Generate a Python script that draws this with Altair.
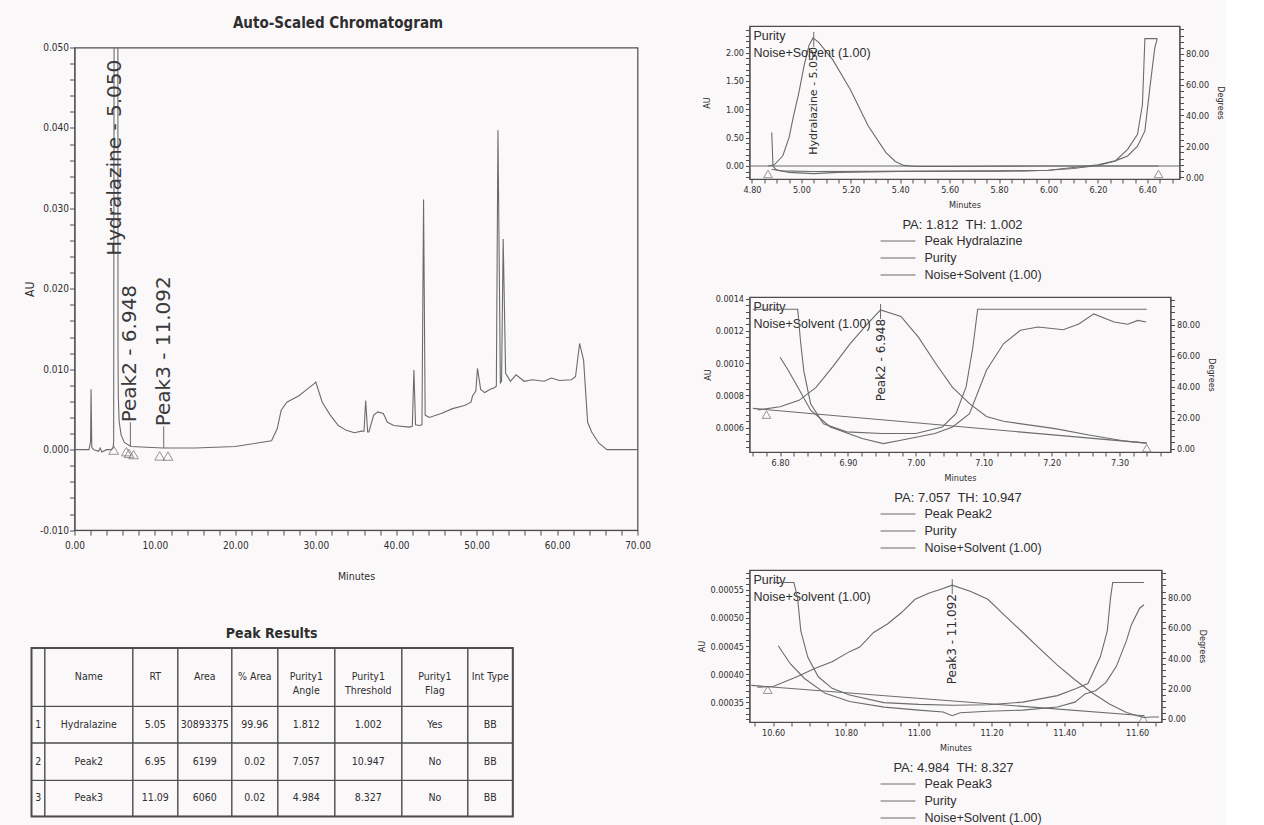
import altair as alt
import pandas as pd
import numpy as np

# ------------------------------------------------------------------ data
# Auto-scaled chromatogram (minutes, AU)
main_time = [0.0, 1.8, 2.0, 2.06, 2.15, 2.4, 3.0, 3.2, 3.4, 4.0, 4.6, 4.80, 4.87, 4.92, 4.97, 5.05,
             5.27, 5.34, 5.38, 5.41, 5.45, 5.55, 5.8, 6.2, 7.0, 9.0, 11.0, 15.0, 20.0, 24.5, 25.2,
             25.7, 26.4, 27.9, 28.9, 29.8, 30.0, 30.8, 31.8, 32.8, 33.8, 34.8, 35.7, 36.0, 36.2,
             36.45, 36.6, 37.2, 37.7, 38.4, 38.9, 39.7, 41.6, 42.0, 42.2, 42.4, 42.9, 43.2, 43.4,
             43.6, 44.1, 45.6, 47.0, 48.5, 49.3, 49.5, 49.9, 50.1, 50.5, 51.0, 51.7, 52.2, 52.45,
             52.65, 52.95, 53.1, 53.3, 53.6, 54.2, 54.9, 55.9, 56.9, 58.4, 59.3, 60.3, 61.8, 62.3,
             62.8, 63.3, 63.8, 64.3, 65.2, 66.2, 70.0]
main_au = [0.0, 0.0, 0.0010, 0.0075, 0.0003, 0.0, -0.0002, 0.0002, -0.0003, 0.0, 0.0, 0.0002, 0.001,
           0.05, 0.9, 2.26, 0.71, 0.235, 0.08, 0.012, 0.0065, 0.0035, 0.0018, 0.0009, 0.0004, 0.0003,
           0.0002, 0.0002, 0.0004, 0.0011, 0.0026, 0.0049, 0.0059, 0.0067, 0.0075, 0.0082, 0.0084,
           0.0059, 0.0043, 0.0030, 0.0024, 0.0021, 0.0023, 0.0023, 0.0061, 0.0022, 0.0022, 0.0043,
           0.0047, 0.0045, 0.0034, 0.0030, 0.0028, 0.0029, 0.0099, 0.0031, 0.0030, 0.0031, 0.0311,
           0.0043, 0.0040, 0.0045, 0.0051, 0.0055, 0.0059, 0.0067, 0.0073, 0.0101, 0.0075, 0.0071,
           0.0075, 0.0077, 0.0079, 0.0397, 0.0083, 0.0085, 0.0262, 0.0095, 0.0085, 0.0093, 0.0085,
           0.0087, 0.0085, 0.0089, 0.0086, 0.0087, 0.0091, 0.0132, 0.0111, 0.0034, 0.0022, 0.0008,
           0.0, 0.0]

peak_names = ["Hydralazine", "Peak2", "Peak3"]
peak_rt = [5.050, 6.948, 11.092]
peak_starts = [4.865, 6.78, 10.585]
peak_ends = [6.445, 7.34, 11.617]
main_label_anchor = [0.0241, 0.0034, 0.0029]   # where each vertical peak label begins (AU)

# Peak Results table
tbl_rt = [5.05, 6.95, 11.09]
tbl_area = [30893375, 6199, 6060]
tbl_pct_area = [99.96, 0.02, 0.02]
tbl_purity_angle = [1.812, 7.057, 4.984]
tbl_purity_threshold = [1.002, 10.947, 8.327]
tbl_purity_flag = ["Yes", "No", "No"]
tbl_int_type = ["BB", "BB", "BB"]
tbl_headers = ["", "Name", "RT", "Area", "% Area", "Purity1\nAngle", "Purity1\nThreshold",
               "Purity1\nFlag", "Int Type"]

# Purity plot 1 : Hydralazine
p1_peak_t = [4.79, 4.865, 4.89, 4.925, 4.95, 4.968, 4.99, 5.011, 5.03, 5.047, 5.07, 5.126, 5.198,
             5.27, 5.342, 5.38, 5.414, 5.46, 5.60, 6.00, 6.53]
p1_peak_au = [0.0, 0.0, 0.02, 0.18, 0.50, 0.88, 1.30, 1.77, 2.12, 2.26, 2.18, 1.88, 1.35, 0.71,
              0.235, 0.08, 0.01, -0.01, -0.01, 0.0, 0.0]
p1_purity_t = [4.88, 4.885, 4.90, 4.95, 5.05, 5.15, 5.40, 5.80, 6.00, 6.10, 6.20, 6.27, 6.32, 6.36,
               6.38, 6.39, 6.44]
p1_purity_deg = [29, 7, 4.5, 3.0, 2.2, 3.0, 3.6, 3.8, 4.4, 5.5, 7.5, 10.4, 18, 27.8, 47, 90, 90]
p1_noise_t = [4.88, 4.92, 5.05, 5.50, 5.90, 6.00, 6.20, 6.27, 6.32, 6.36, 6.39, 6.41, 6.43, 6.44]
p1_noise_deg = [5.0, 4.0, 3.6, 3.8, 4.0, 4.4, 8.0, 10.5, 13.7, 20, 30, 58, 84, 90]
p1_base_t = [4.865, 6.445]
p1_base_au = [0.0, 0.0]

# Purity plot 2 : Peak2
p2_peak_t = [6.767, 6.80, 6.828, 6.853, 6.878, 6.903, 6.928, 6.948, 6.978, 7.004, 7.029, 7.054,
             7.079, 7.104, 7.129, 7.179, 7.205, 7.255, 7.305, 7.34]
p2_peak_au = [0.00071, 0.00073, 0.00077, 0.00085, 0.00098, 0.00112, 0.00124, 0.00133, 0.00129,
              0.00116, 0.00100, 0.00085, 0.00075, 0.00067, 0.00064, 0.00061, 0.000595, 0.000555,
              0.00052, 0.000505]
p2_purity_t = [6.80, 6.812, 6.826, 6.845, 6.874, 6.921, 6.952, 6.978, 7.028, 7.054, 7.079, 7.104,
               7.129, 7.154, 7.18, 7.217, 7.24, 7.262, 7.292, 7.312, 7.327, 7.339]
p2_purity_deg = [59, 50.6, 39.8, 24.8, 14, 6.5, 3.2, 5.4, 9.7, 14, 22.6, 50.6, 67.7, 76.4, 78.5,
                 76.8, 80.5, 87, 81.7, 80.3, 82.8, 81.7]
p2_noise_t = [6.76, 6.826, 6.830, 6.835, 6.845, 6.864, 6.898, 6.95, 7.00, 7.039, 7.059, 7.074,
              7.084, 7.091, 7.34]
p2_noise_deg = [90, 90, 70, 50, 29, 16, 10.8, 9.7, 9.7, 14, 22.6, 39.8, 65.6, 90, 90]
p2_base_t = [6.76, 7.34]
p2_base_au = [0.00072, 0.000505]

# Purity plot 3 : Peak3
p3_peak_t = [10.557, 10.60, 10.667, 10.714, 10.762, 10.81, 10.838, 10.876, 10.914, 10.952, 10.99,
             11.029, 11.057, 11.092, 11.143, 11.19, 11.238, 11.286, 11.333, 11.381, 11.429, 11.476,
             11.524, 11.571, 11.60, 11.619, 11.64, 11.66]
p3_peak_au = [0.000377, 0.000378, 0.000396, 0.00041, 0.000422, 0.00044, 0.000448, 0.000474,
              0.000489, 0.000509, 0.000533, 0.000544, 0.00055, 0.000558, 0.000547, 0.000533,
              0.000503, 0.000474, 0.000445, 0.000416, 0.00039, 0.000367, 0.000347, 0.000332,
              0.000326, 0.000323, 0.000324, 0.000324]
p3_purity_t = [10.614, 10.647, 10.686, 10.743, 10.81, 10.905, 11.0, 11.067, 11.092, 11.114, 11.19,
               11.286, 11.381, 11.429, 11.457, 11.486, 11.514, 11.543, 11.571, 11.584, 11.607, 11.619]
p3_purity_deg = [48.3, 36.4, 26.7, 16.9, 11.5, 7.8, 5.8, 4.6, 2.1, 4.1, 5.1, 5.8, 7.9, 11.1, 16.5,
                 18.6, 24, 34.7, 51.8, 62, 73, 75.3]
p3_noise_t = [10.60, 10.657, 10.667, 10.676, 10.695, 10.724, 10.762, 10.81, 10.904, 11.0, 11.095,
              11.19, 11.286, 11.381, 11.429, 11.465, 11.499, 11.518, 11.527, 11.533, 11.619]
p3_noise_deg = [90, 90, 80, 58, 40.8, 27.8, 20.2, 15.8, 10.8, 9.6, 9.0, 9.4, 11.1, 15.4, 19.7,
                23.4, 41, 58, 80, 90, 90]
p3_base_t = [10.54, 11.62]
p3_base_au = [0.00038, 0.000326]

pa_values = [1.812, 7.057, 4.984]
th_values = [1.002, 10.947, 8.327]

# ------------------------------------------------------------------ style
NARROW = "Liberation Sans Narrow, Arial Narrow, DejaVu Sans Condensed, sans-serif"
SANS = "Liberation Sans, Arial, sans-serif"
LABEL_FONT = "DejaVu Sans, Verdana, sans-serif"
LINE = "#6b6b6b"
INK = "#2e2e2e"
FRAME = "#4d4d4d"
BG = "#fbf8fa"
ONE = pd.DataFrame({"k": [0]})


def ax(**kw):
    base = dict(grid=False, domainColor=FRAME, tickColor=FRAME, labelColor=INK, titleColor=INK,
                labelFont=NARROW, titleFont=NARROW, titleFontWeight="normal",
                labelOverlap=False, labelFlush=False)
    base.update(kw)
    return alt.Axis(**base)


def note(txt, px, py, size=12.5, align="left", font=SANS):
    return alt.Chart(ONE).mark_text(text=txt, align=align, baseline="middle", font=font,
                                    fontSize=size, color=INK).encode(x=alt.value(px), y=alt.value(py))


def seg(x0, x1, py):
    return alt.Chart(ONE).mark_rule(color=LINE, strokeWidth=1).encode(
        x=alt.value(x0), x2=alt.value(x1), y=alt.value(py))


# ------------------------------------------------------------------ main chromatogram
MW, MH = 563, 482.6
m_xscale = alt.Scale(domain=[0, 70], nice=False, zero=False)
m_xaxis = ax(values=list(range(0, 71, 2)),
             labelExpr="datum.value % 10 === 0 ? format(datum.value, '.2f') : ''",
             tickSize=5, labelPadding=5, titlePadding=21, labelFontSize=10, titleFontSize=10.5)
m_yscale = alt.Scale(domain=[-0.010, 0.050], nice=False, zero=False)
m_yaxis = ax(values=[round(-0.010 + 0.002 * i, 3) for i in range(31)],
             labelExpr="round(datum.value*1000) % 10 === 0 ? replace(format(datum.value, '.3f'), '\u2212', '-') : ''",
             tickSize=5, labelPadding=1, titlePadding=3, labelFontSize=10, titleFontSize=12)


def MX(f):
    return alt.X(f"{f}:Q", title="Minutes", scale=m_xscale, axis=m_xaxis)


def MY(f):
    return alt.Y(f"{f}:Q", title="AU", scale=m_yscale, axis=m_yaxis)


main_df = pd.DataFrame({"t": main_time, "au": main_au})
trace = alt.Chart(main_df).mark_line(color=LINE, strokeWidth=1.1, clip=True).encode(x=MX("t"), y=MY("au"))

tri_t = sorted(peak_starts + peak_ends)
tri_df = pd.DataFrame({"t": tri_t, "au": np.interp(tri_t, main_time, main_au)})
main_tri = alt.Chart(tri_df).mark_point(shape="triangle-up", filled=False, size=95, color=LINE,
                                        strokeWidth=1, yOffset=8).encode(x=MX("t"), y=MY("au"))

lab_df = pd.DataFrame({"t": peak_rt, "au": main_label_anchor,
                       "apex": np.interp(peak_rt, main_time, main_au),
                       "txt": [f"{n} - {r:.3f}" for n, r in zip(peak_names, peak_rt)]})
main_labels = alt.Chart(lab_df).mark_text(angle=270, align="left", baseline="middle", font=LABEL_FONT,
                                          fontSize=20, color="#3a3a3a").encode(x=MX("t"), y=MY("au"), text="txt")
rule_df = lab_df[lab_df["apex"] < lab_df["au"]]
main_ticks = alt.Chart(rule_df).mark_rule(color=LINE, strokeWidth=1).encode(
    x=MX("t"), y=MY("apex"), y2=alt.Y2("au"))

main = alt.layer(trace, main_ticks, main_tri, main_labels).properties(
    width=MW, height=MH,
    title=alt.TitleParams("Auto-Scaled Chromatogram", font=NARROW, fontSize=15, fontWeight="bold",
                          color=INK, anchor="middle", dx=-18, offset=12))

spacer = alt.Chart(ONE).mark_point(opacity=0).encode(x=alt.value(0), y=alt.value(0)).properties(
    width=MW, height=1, view=alt.ViewBackground(stroke="transparent"))

# ------------------------------------------------------------------ peak results table
col_edges = [0, 13.3, 101.3, 146.3, 200.3, 246.3, 303.3, 370.3, 436.3, 481.3]
row_edges = [0, 58.4, 95.0, 132.4, 168.4]
TABLE_SHIFT = 43.0
rows = [tbl_headers]
for i in range(3):
    rows.append([str(i + 1), peak_names[i], f"{tbl_rt[i]:.2f}", str(tbl_area[i]), f"{tbl_pct_area[i]:.2f}",
                 f"{tbl_purity_angle[i]:.3f}", f"{tbl_purity_threshold[i]:.3f}", tbl_purity_flag[i],
                 tbl_int_type[i]])
cells = []
for r, row in enumerate(rows):
    for c, txt in enumerate(row):
        cells.append({"x0": col_edges[c], "x1": col_edges[c + 1], "y0": row_edges[r], "y1": row_edges[r + 1],
                      "xc": (col_edges[c] + col_edges[c + 1]) / 2, "yc": (row_edges[r] + row_edges[r + 1]) / 2,
                      "txt": txt})
cell_df = pd.DataFrame(cells)
t_xs = alt.Scale(domain=[TABLE_SHIFT, col_edges[-1]], nice=False, zero=False)
t_ys = alt.Scale(domain=[0, row_edges[-1]], nice=False, zero=False, reverse=True)
grid = alt.Chart(cell_df).mark_rect(fill="transparent", stroke=FRAME, strokeWidth=1).encode(
    x=alt.X("x0:Q", scale=t_xs, axis=None), x2="x1",
    y=alt.Y("y0:Q", scale=t_ys, axis=None), y2="y1")
outer = alt.Chart(pd.DataFrame({"x0": [0], "x1": [col_edges[-1]], "y0": [0], "y1": [row_edges[-1]]})).mark_rect(
    fill="transparent", stroke=FRAME, strokeWidth=2).encode(
    x=alt.X("x0:Q", scale=t_xs, axis=None), x2="x1",
    y=alt.Y("y0:Q", scale=t_ys, axis=None), y2="y1")
cell_text = alt.Chart(cell_df).mark_text(font=NARROW, fontSize=10.5, color=INK, lineBreak="\n",
                                         lineHeight=14, baseline="middle").encode(
    x=alt.X("xc:Q", scale=t_xs, axis=None), y=alt.Y("yc:Q", scale=t_ys, axis=None), text="txt")
table = alt.layer(grid, outer, cell_text).properties(
    width=col_edges[-1] - TABLE_SHIFT, height=row_edges[-1],
    view=alt.ViewBackground(stroke="transparent"),
    title=alt.TitleParams("Peak Results", font=NARROW, fontSize=14, fontWeight="bold", color=INK,
                          anchor="middle", dx=-22, offset=6))


# ------------------------------------------------------------------ purity panels
def panel(cfg):
    W, H = cfg["w"], cfg["h"]
    xs = alt.Scale(domain=cfg["xdom"], nice=False, zero=False)
    xax = ax(values=cfg["xvals"], labelExpr=cfg["xexpr"], tickSize=4, labelPadding=2, titlePadding=6,
             labelFontSize=9, titleFontSize=9)
    aus = alt.Scale(domain=cfg["audom"], nice=False, zero=False)
    auax = ax(orient="left", values=cfg["auvals"], labelExpr=cfg["auexpr"], tickSize=4, labelPadding=2,
              titlePadding=cfg["au_tp"], labelFontSize=9, titleFontSize=9)
    dgs = alt.Scale(domain=cfg["degdom"], nice=False, zero=False)
    dgax = ax(orient="right", values=list(range(0, 97, 4)),
              labelExpr="datum.value % 20 === 0 ? format(datum.value, '.2f') : ''",
              tickSize=4, labelPadding=2, titlePadding=7, labelFontSize=9, titleFontSize=9)

    def X(f):
        return alt.X(f"{f}:Q", title="Minutes", scale=xs, axis=xax)

    def YA(f):
        return alt.Y(f"{f}:Q", title="AU", scale=aus, axis=auax)

    def YD(f):
        return alt.Y(f"{f}:Q", title="Degrees", scale=dgs, axis=dgax)

    peak = alt.Chart(pd.DataFrame({"t": cfg["peak_t"], "au": cfg["peak_au"]})).mark_line(
        color=LINE, strokeWidth=1.1, clip=True).encode(x=X("t"), y=YA("au"))
    base = alt.Chart(pd.DataFrame({"t": cfg["base_t"], "au": cfg["base_au"]})).mark_line(
        color=LINE, strokeWidth=1.1, clip=True).encode(x=X("t"), y=YA("au"))
    marks_t = cfg["marks"]
    tri = alt.Chart(pd.DataFrame({"t": marks_t, "au": np.interp(marks_t, cfg["base_t"], cfg["base_au"])})).mark_point(
        shape="triangle-up", filled=False, size=75, color=LINE, strokeWidth=1, yOffset=cfg["tri_off"]).encode(
        x=X("t"), y=YA("au"))
    apex = pd.DataFrame({"t": [cfg["rt"]], "au": [max(cfg["peak_au"])],
                         "txt": [f"{cfg['name']} - {cfg['rt']:.3f}"]})
    tick = alt.Chart(apex).mark_rule(color=LINE, strokeWidth=1, yOffset=-6, y2Offset=9).encode(
        x=X("t"), y=YA("au"), y2=alt.Y2("au"))
    label = alt.Chart(apex).mark_text(angle=270, align="right", baseline="middle", dx=-9, font=LABEL_FONT,
                                      fontSize=cfg["lab_fs"], color=INK).encode(x=X("t"), y=YA("au"), text="txt")
    notes = [note("Purity", 4, 10), note("Noise+Solvent (1.00)", 4, 27),
             note(f"PA: {cfg['pa']:.3f}\u00a0 TH: {cfg['th']:.3f}", W / 2 - 2, H + 46, size=13, align="center")]
    legend_txt = [f"Peak {cfg['name']}", "Purity", "Noise+Solvent (1.00)"]
    for i, txt in enumerate(legend_txt):
        notes.append(seg(131, 166, H + 62 + 17 * i))
        notes.append(note(txt, 175, H + 62 + 17 * i, size=12.5))
    au_group = alt.layer(peak, base, tri, tick, label, *notes)

    pur = alt.Chart(pd.DataFrame({"t": cfg["pur_t"], "deg": cfg["pur_deg"]})).mark_line(
        color=LINE, strokeWidth=1.1, clip=True).encode(x=X("t"), y=YD("deg"))
    noi = alt.Chart(pd.DataFrame({"t": cfg["noi_t"], "deg": cfg["noi_deg"]})).mark_line(
        color=LINE, strokeWidth=1.1, clip=True).encode(x=X("t"), y=YD("deg"))
    deg_group = alt.layer(pur, noi)
    return alt.layer(au_group, deg_group).resolve_scale(y="independent").properties(width=W, height=H)


p1 = panel(dict(
    w=430, h=153, xdom=[4.79, 6.53], xvals=[round(4.80 + 0.05 * i, 2) for i in range(35)],
    xexpr="round(datum.value*100) % 20 === 0 ? format(datum.value, '.2f') : ''",
    audom=[-0.23, 2.47], auvals=[round(-0.2 + 0.1 * i, 2) for i in range(27)],
    auexpr="datum.value >= 0 && round(datum.value*10) % 5 === 0 ? format(datum.value, '.2f') : ''",
    au_tp=14, degdom=[-1.3, 98.2],
    peak_t=p1_peak_t, peak_au=p1_peak_au, base_t=p1_base_t, base_au=p1_base_au,
    pur_t=p1_purity_t, pur_deg=p1_purity_deg, noi_t=p1_noise_t, noi_deg=p1_noise_deg,
    marks=[peak_starts[0], peak_ends[0]], tri_off=8, rt=peak_rt[0], name=peak_names[0], lab_fs=11,
    pa=pa_values[0], th=th_values[0]))
p2 = panel(dict(
    w=421, h=155, xdom=[6.755, 7.375], xvals=[round(6.76 + 0.02 * i, 2) for i in range(31)],
    xexpr="round(datum.value*100) % 10 === 0 ? format(datum.value, '.2f') : ''",
    audom=[0.00045, 0.00141], auvals=[round(0.00048 + 0.00004 * i, 5) for i in range(24)],
    auexpr="round(datum.value*100000) % 20 === 0 ? format(datum.value, '.4f') : ''",
    au_tp=3, degdom=[-2.2, 97.9],
    peak_t=p2_peak_t, peak_au=p2_peak_au, base_t=p2_base_t, base_au=p2_base_au,
    pur_t=p2_purity_t, pur_deg=p2_purity_deg, noi_t=p2_noise_t, noi_deg=p2_noise_deg,
    marks=[peak_starts[1], peak_ends[1]], tri_off=5, rt=peak_rt[1], name=peak_names[1], lab_fs=12,
    pa=pa_values[1], th=th_values[1]))
p3 = panel(dict(
    w=412, h=152, xdom=[10.535, 11.667], xvals=[round(10.55 + 0.05 * i, 2) for i in range(23)],
    xexpr="round(datum.value*100) % 20 === 0 ? format(datum.value, '.2f') : ''",
    audom=[0.000315, 0.000585], auvals=[round(0.00032 + 0.00001 * i, 5) for i in range(27)],
    auexpr="round(datum.value*1000000) % 50 === 0 ? format(datum.value, '.5f') : ''",
    au_tp=4, degdom=[-2.0, 98.2],
    peak_t=p3_peak_t, peak_au=p3_peak_au, base_t=p3_base_t, base_au=p3_base_au,
    pur_t=p3_purity_t, pur_deg=p3_purity_deg, noi_t=p3_noise_t, noi_deg=p3_noise_deg,
    marks=[peak_starts[2], peak_ends[2]], tri_off=3, rt=peak_rt[2], name=peak_names[2], lab_fs=12,
    pa=pa_values[2], th=th_values[2]))

# ------------------------------------------------------------------ layout
left = alt.vconcat(alt.vconcat(spacer, main, spacing=20.5, bounds="flush"), table, spacing=43)
right = alt.vconcat(p1, p2, p3, spacing=118, bounds="flush")

chart = alt.hconcat(left, right, spacing=44).properties(
    background=BG, padding={"left": 22.5, "top": 14, "right": 0, "bottom": 0}
).configure_view(stroke=FRAME, strokeWidth=1.2).configure_axis(grid=False)

chart.save("out.html", embed_options={"renderer": "svg", "actions": False})
